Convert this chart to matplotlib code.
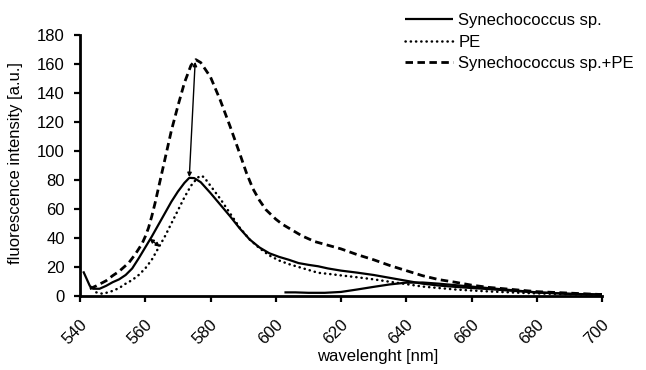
import matplotlib
matplotlib.use("Agg")
import matplotlib.pyplot as plt
import matplotlib.transforms as mtransforms

plt.rcParams['font.family'] = ['Liberation Sans', 'DejaVu Sans']

# Synechococcus sp. (solid)
wl_syn = [541, 542, 543, 544, 546, 548, 550, 552, 554, 556, 558, 560, 562, 564, 566, 568,
          570, 572, 573.5, 575, 577, 580, 583, 586, 589, 592, 595, 598, 601, 604, 607, 610,
          613, 616, 620, 625, 630, 635, 640, 645, 650, 655, 660, 665, 670, 675, 680, 685,
          690, 695, 700]
val_syn = [17, 12, 7, 5, 5, 7, 9.5, 11.5, 14.5, 19, 26, 33.5, 41, 49, 57, 65,
           72, 78, 81.5, 81.3, 78.5, 71, 63, 55, 46.5, 39, 33.5, 29.5, 27, 25, 22.7, 21.5,
           20.5, 19, 17.5, 16.1, 14.5, 12.5, 10.5, 8.5, 7.2, 6.3, 5.5, 4.8, 4, 3.2, 2.5, 2,
           1.5, 1.2, 1]

# second solid trace (low, from ~603 nm)
wl_syn2 = [603, 606, 610, 615, 620, 625, 630, 635, 640, 645, 650, 655, 660, 670, 680, 690, 700]
val_syn2 = [2.5, 2.5, 2.2, 2.2, 2.8, 4.5, 6.3, 8, 9.2, 9.3, 8.5, 7.5, 6.5, 4.5, 2.5, 1.5, 1]

# PE (dotted)
wl_pe = [545, 547, 550, 552, 554, 556, 558, 560, 562, 564, 566, 568, 570, 572, 574, 576,
         577, 578, 580, 583, 586, 589, 592, 595, 598, 601, 604, 607, 610, 613, 616, 620,
         625, 630, 635, 640, 645, 650, 655, 660, 665, 670, 675, 680, 685, 690, 695, 700]
val_pe = [2.5, 1.5, 3.5, 5.5, 8.5, 11, 14.5, 19, 25, 33, 41, 50, 59, 68, 76, 81.5,
          83, 82, 76, 67, 57, 47, 39, 33, 28, 24.5, 22, 20, 18, 16, 15.3, 14.2,
          12.9, 11.5, 9.8, 8.2, 6.5, 5.5, 4.5, 3.8, 3.2, 2.7, 2.2, 1.8, 1.5, 1.2, 1, 0.8]

# Synechococcus sp. + PE (dashed)
wl_mix = [543, 545, 548, 550, 552, 555, 557, 559, 560, 561, 562, 563, 564, 565, 566, 567,
          568, 570, 572, 574, 575.5, 577, 580, 583, 586, 589, 591, 593, 595, 597, 600, 602,
          605, 608, 612, 616, 620, 625, 630, 635, 640, 645, 650, 655, 660, 665, 670, 675,
          680, 685, 690, 695, 700]
val_mix = [5, 7, 10.5, 14, 17, 23, 29, 36, 41, 47, 55, 64, 74, 84, 94, 104,
           114, 131, 147, 159, 163, 161, 151, 135, 117, 98, 85, 74, 66, 59.5, 53, 49.5,
           45.5, 41.5, 37.5, 35, 32.5, 28.5, 25, 21, 17.5, 14, 11.3, 9.5, 7.5, 6, 5, 4,
           3, 2.5, 2, 1.5, 1]

xticks = [540, 560, 580, 600, 620, 640, 660, 680, 700]
yticks = [0, 20, 40, 60, 80, 100, 120, 140, 160, 180]

FS = 12
fig = plt.figure(figsize=(6.46, 3.70), dpi=100)
ax = fig.add_axes([80/646, 1-296/370, (602-80)/646, (296-35)/370])

ax.plot(wl_syn, val_syn, color='black', lw=1.6, solid_capstyle='butt', label='Synechococcus sp.')
ax.plot(wl_pe, val_pe, color='black', lw=1.8, linestyle=(0, (0.1, 2.0)), dash_capstyle='round', label='PE')
ax.plot(wl_mix, val_mix, color='black', lw=2.0, linestyle=(0, (2.7, 1.6)), label='Synechococcus sp.+PE')
ax.plot(wl_syn2, val_syn2, color='black', lw=1.6)

# arrows
ap = dict(arrowstyle='<|-|>', lw=1.0, color='black', mutation_scale=6, shrinkA=0, shrinkB=0)
ax.annotate('', xy=(575.3, 161.5), xytext=(573.5, 82), arrowprops=ap)
ax.annotate('', xy=(564.5, 34), xytext=(561.3, 39.5), arrowprops=ap)

ax.set_xlim(540, 700)
ax.set_ylim(0, 180)
ax.set_xticks(xticks)
ax.set_yticks(yticks)
ax.spines['top'].set_visible(False)
ax.spines['right'].set_visible(False)
for s in ('left', 'bottom'):
    ax.spines[s].set_linewidth(2.0)
ax.tick_params(axis='both', direction='out', length=4, width=1.6, labelsize=FS)
ax.tick_params(axis='y', pad=7)
ax.tick_params(axis='x', pad=11)

offset = mtransforms.ScaledTranslation(-5/100, 0, fig.dpi_scale_trans)
for lab in ax.get_xticklabels():
    lab.set_rotation(45)
    lab.set_ha('center')
    lab.set_va('top')
    lab.set_transform(lab.get_transform() + offset)

fig.text(378/646, 1-357/370, 'wavelenght [nm]', ha='center', va='center', fontsize=FS)
fig.text(16/646, 1-163/370, 'fluorescence intensity [a.u.]', ha='center', va='center',
         rotation=90, fontsize=FS)

leg = ax.legend(loc='upper left', bbox_to_anchor=(405/646, 1-13/370),
                bbox_transform=fig.transFigure, frameon=False, fontsize=FS,
                handlelength=2.9, handletextpad=0.3, labelspacing=0.4,
                borderpad=0, borderaxespad=0)

fig.savefig('out.png', dpi=100)
